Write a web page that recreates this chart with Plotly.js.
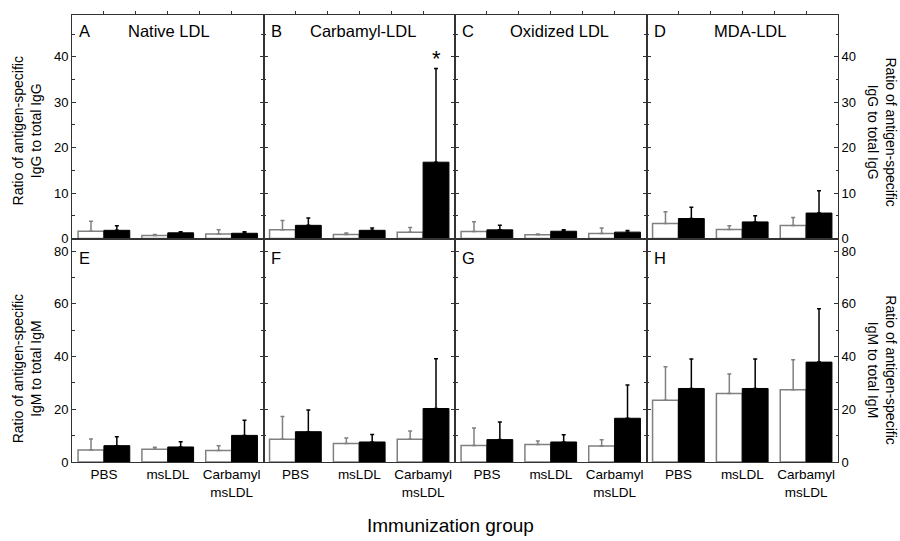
<!DOCTYPE html>
<html>
<head>
<meta charset="utf-8">
<script src="https://cdn.plot.ly/plotly-3.0.1.min.js"></script>
<style>html,body{margin:0;padding:0;background:#fff;}#chart{width:900px;height:541px;}</style>
</head>
<body>
<div id="chart"></div>
<script>
// ---- data ----
const categories = ["PBS", "msLDL", "Carbamyl<br>msLDL"];
const panelLetters = ["A", "B", "C", "D", "E", "F", "G", "H"];
const panelTitles = ["Native LDL", "Carbamyl-LDL", "Oxidized LDL", "MDA-LDL", "", "", "", ""];

// white bars (mean, +error) and black bars (mean, +error), per panel A..H
const whiteMean = [
  [1.6, 0.65, 1.0],   // A
  [1.9, 0.9, 1.4],    // B
  [1.55, 0.8, 1.1],   // C
  [3.3, 2.0, 2.85],   // D
  [4.6, 4.8, 4.4],    // E
  [8.6, 7.0, 8.6],    // F
  [6.3, 6.6, 6.1],    // G
  [23.4, 26.0, 27.4]  // H
];
const whiteErr = [
  [2.2, 0.25, 0.9],
  [2.05, 0.3, 1.0],
  [2.15, 0.2, 1.2],
  [2.6, 0.8, 1.75],
  [4.1, 0.8, 1.8],
  [8.7, 2.1, 3.2],
  [6.6, 1.4, 2.3],
  [12.7, 7.4, 11.4]
];
const blackMean = [
  [1.8, 1.25, 1.15],
  [2.9, 1.8, 16.8],
  [1.9, 1.6, 1.4],
  [4.4, 3.65, 5.6],
  [6.2, 5.7, 10.1],
  [11.5, 7.6, 20.3],
  [8.5, 7.6, 16.6],
  [27.9, 27.9, 37.9]
];
const blackErr = [
  [1.0, 0.25, 0.35],
  [1.6, 0.5, 20.6],
  [1.0, 0.3, 0.35],
  [2.5, 1.35, 4.9],
  [3.4, 2.0, 5.7],
  [8.2, 2.8, 18.9],
  [6.7, 2.7, 12.6],
  [11.2, 11.2, 20.2]
];
const yTitleIgG = "Ratio of antigen-specific<br>IgG to total IgG";
const yTitleIgM = "Ratio of antigen-specific<br>IgM to total IgM";
const xTitle = "Immunization group";
const topRange = [0, 49.2];
const bottomRange = [0, 84.8];
const significance = {panel: 1, cat: 2, label: "*"};

// ---- build ----
const FONT = "Liberation Sans, Arial, sans-serif";
const FRAME = "#333";
const GRAY = "#808080";
const traces = [];
const layout = {
  width: 900, height: 541,
  margin: {l: 72, r: 61.7, t: 14.5, b: 79.3},
  paper_bgcolor: "#fff", plot_bgcolor: "#fff",
  showlegend: false,
  barmode: "group", bargap: 0.19, bargroupgap: 0,
  font: {family: FONT, size: 14, color: "#000"},
  annotations: []
};

for (let p = 0; p < 8; p++) {
  const n = p + 1;
  const xa = "x" + (n === 1 ? "" : n);
  const ya = "y" + (n === 1 ? "" : n);
  const col = p % 4;
  const top = p < 4;
  traces.push({
    type: "bar", x: categories, y: whiteMean[p], xaxis: xa, yaxis: ya,
    marker: {color: "#fff", line: {color: GRAY, width: 1.5}},
    error_y: {type: "data", array: whiteErr[p], arrayminus: whiteErr[p].map(() => 0), symmetric: false,
              color: GRAY, thickness: 1.5, width: 2},
    hoverinfo: "none"
  });
  traces.push({
    type: "bar", x: categories, y: blackMean[p], xaxis: xa, yaxis: ya,
    marker: {color: "#000", line: {color: "#000", width: 1}},
    error_y: {type: "data", array: blackErr[p], arrayminus: blackErr[p].map(() => 0), symmetric: false,
              color: "#000", thickness: 1.5, width: 2},
    hoverinfo: "none"
  });

  const xKey = "xaxis" + (n === 1 ? "" : n);
  const yKey = "yaxis" + (n === 1 ? "" : n);
  const xaxis = {
    domain: [col * 0.25, (col + 1) * 0.25],
    anchor: ya,
    type: "category",
    categoryorder: "array", categoryarray: categories,
    range: [-0.5, 2.5],
    showline: true, linecolor: FRAME, linewidth: 1, mirror: true,
    showgrid: false, zeroline: false, fixedrange: true
  };
  if (top) {
    Object.assign(xaxis, {side: "top", ticks: "outside", ticklen: 3, tickcolor: FRAME,
      tickvals: [0, 0.5, 1, 1.5, 2], showticklabels: false});
  } else {
    Object.assign(xaxis, {side: "bottom", ticks: "", showticklabels: true,
      tickfont: {family: FONT, size: 13.5, color: "#000"}});
  }
  layout[xKey] = xaxis;

  const yaxis = {
    domain: top ? [0.5, 1] : [0, 0.5],
    anchor: xa,
    range: top ? topRange : bottomRange,
    dtick: top ? 10 : 20, tick0: 0,
    ticks: "inside", ticklen: 4, tickcolor: FRAME,
    minor: {dtick: top ? 5 : 10, ticks: "inside", ticklen: 2.5, tickcolor: FRAME},
    showline: true, linecolor: FRAME, linewidth: 1, mirror: "ticks",
    showgrid: false, zeroline: false, fixedrange: true,
    side: col === 3 ? "right" : "left",
    showticklabels: col === 0 || col === 3,
    ticklabelshift: top ? -4.5 : 4.5,
    tickfont: {family: FONT, size: 13, color: "#000"}
  };
  layout[yKey] = yaxis;

  // panel letter
  layout.annotations.push({
    xref: xa + " domain", yref: ya + " domain", x: 0, y: 1,
    xanchor: "left", yanchor: "middle", xshift: 5, yshift: top ? -15.5 : -19.5,
    text: panelLetters[p], showarrow: false, font: {family: FONT, size: 16.5, color: "#000"}
  });
  if (panelTitles[p]) {
    const shifts = [96.8, 99.5, 104, 103];
    layout.annotations.push({
      xref: xa + " domain", yref: ya + " domain", x: 0, y: 1,
      xanchor: "center", yanchor: "middle", xshift: shifts[col], yshift: -15.5,
      text: panelTitles[p], showarrow: false, font: {family: FONT, size: 16.5, color: "#000"}
    });
  }
}

// significance star
{
  const p = significance.panel, c = significance.cat, n = p + 1;
  layout.annotations.push({
    xref: "x" + n, yref: "y" + n,
    x: categories[c], y: blackMean[p][c] + blackErr[p][c],
    xanchor: "center", yanchor: "middle", xshift: 13, yshift: 10,
    text: significance.label, showarrow: false, font: {family: FONT, size: 22, color: "#000"}
  });
}

// axis titles
const ytitles = [
  {text: yTitleIgG, x: 0, xshift: -45, y: 0.7395, angle: -90},
  {text: yTitleIgM, x: 0, xshift: -45, y: 0.2073, angle: -90},
  {text: yTitleIgG, x: 1, xshift: 44, y: 0.7395, angle: 90},
  {text: yTitleIgM, x: 1, xshift: 44, y: 0.2073, angle: 90}
];
ytitles.forEach(t => layout.annotations.push({
  xref: "paper", yref: "paper", x: t.x, y: t.y, xshift: t.xshift,
  xanchor: "center", yanchor: "middle", textangle: t.angle,
  text: t.text, showarrow: false, font: {family: FONT, size: 14, color: "#000"}
}));
layout.annotations.push({
  xref: "paper", yref: "paper", x: 0.4946, y: -0.1416,
  xanchor: "center", yanchor: "middle",
  text: xTitle, showarrow: false, font: {family: FONT, size: 19, color: "#000"}
});

Plotly.newPlot("chart", traces, layout, {staticPlot: true, displayModeBar: false});
</script>
</body>
</html>
